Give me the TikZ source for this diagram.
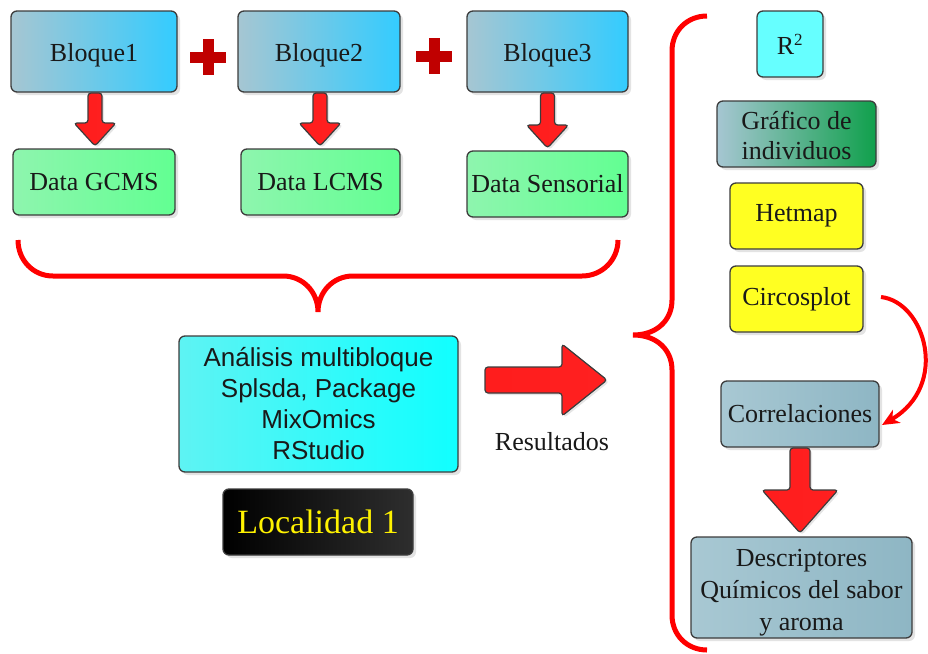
\documentclass[tikz,border=0pt]{standalone}
\usepackage{fontspec}
\setmainfont{Liberation Serif}
\newfontfamily\arialf{Liberation Sans}
\usetikzlibrary{calc,shadows,arrows.meta}
\definecolor{boxline}{HTML}{3C3C3C}
\definecolor{bluegray}{HTML}{A6C6D2}
\definecolor{skyb}{HTML}{33CCFF}
\definecolor{lgreenA}{HTML}{8EF5AE}
\definecolor{lgreenB}{HTML}{62FF92}
\definecolor{cyanA}{HTML}{5EF3F3}
\definecolor{cyanB}{HTML}{10FFFF}
\definecolor{rsq}{HTML}{66FFFF}
\definecolor{dgreen}{HTML}{10A04C}
\definecolor{yel}{HTML}{FFFF22}
\definecolor{corrA}{HTML}{A8C8D3}
\definecolor{corrB}{HTML}{8EB6C4}
\definecolor{plusred}{HTML}{C00000}
\definecolor{arrred}{HTML}{FF2020}
\definecolor{bracered}{HTML}{FF0000}
\newcommand{\blockdown}[5]{%
  \path[blockarrow] let \p1=(#1), \p2=(#2) in
    (\x1-#3,\y1) -- (\x1+#3,\y1) -- (\x1+#3,\y2+#5) -- (\x1+#4,\y2+#5)
    -- (\x1,\y2) -- (\x1-#4,\y2+#5) -- (\x1-#3,\y2+#5) -- cycle;}
\newcommand{\blockright}[5]{%
  \path[blockarrow] let \p1=(#1), \p2=(#2) in
    (\x1,\y1+#3) -- (\x2-#5,\y1+#3) -- (\x2-#5,\y1+#4) -- (\x2,\y1)
    -- (\x2-#5,\y1-#4) -- (\x2-#5,\y1-#3) -- (\x1,\y1-#3) -- cycle;}
\begin{document}
\begin{tikzpicture}[x=1pt,y=-1pt,
  box/.style={draw=boxline, line width=1.3pt, rounded corners=6pt, inner sep=0pt,
    outer sep=0pt, align=center, font=\fontsize{26}{31}\selectfont, text=black!90,
    drop shadow={opacity=0.22, shadow xshift=3pt, shadow yshift=-3pt}},
  bloque/.style={box, left color=bluegray, right color=skyb},
  databox/.style={box, left color=lgreenA, right color=lgreenB},
  blockarrow/.style={draw=boxline, line width=1.2pt, rounded corners=3pt,
    left color=arrred!90!red, right color=arrred,
    drop shadow={opacity=0.2, shadow xshift=2pt, shadow yshift=-2pt}},
  brace/.style={draw=bracered, line width=5pt},
  plusbar/.style={draw=plusred, line width=11pt}
]
\useasboundingbox (0,0) rectangle (928,653);
\fill[white] (0,0) rectangle (928,653);

% top row
\node[bloque, minimum width=166, minimum height=81] (b1) at (94,51.5) {\rule{0pt}{26pt}Bloque1};
\node[bloque, minimum width=162, minimum height=81] (b2) at (319,51.5) {\rule{0pt}{26pt}Bloque2};
\node[bloque, minimum width=161, minimum height=81] (b3) at (547.5,51.5) {\rule{0pt}{26pt}Bloque3};

% plus signs
\draw[plusbar] (190,57) -- (226,57) (208,39) -- (208,75);
\draw[plusbar] (416,56) -- (452,56) (434,38) -- (434,74);

% data boxes
\node[databox, minimum width=162, minimum height=66] (d1) at (94,182) {Data GCMS};
\node[databox, minimum width=159, minimum height=66] (d2) at (320.5,182) {Data LCMS};
\node[databox, minimum width=161, minimum height=66] (d3) at (547.5,184) {Data Sensorial};

% down arrows
\blockdown{$(b1.south)+(1,1)$}{$(d1.north)+(1,-3)$}{7pt}{21pt}{23pt}
\blockdown{$(b2.south)+(1,1)$}{$(d2.north)+(-0.5,-3)$}{7pt}{21pt}{23pt}
\blockdown{$(b3.south)+(0,1)$}{$(d3.north)+(0,-3)$}{7pt}{21pt}{23pt}

% bottom brace
\draw[brace] (18,240) .. controls (18,260) and (33,276) .. (53,276) -- (283,276)
  .. controls (303,276) and (318,292) .. (318,312)
  .. controls (318,292) and (333,276) .. (353,276) -- (582,276)
  .. controls (602,276) and (618,260) .. (618,240);

% central block
\node[box, left color=cyanA, right color=cyanB, minimum width=279, minimum height=136,
  font=\arialf\fontsize{26}{31}\selectfont] (ana) at (318.5,404)
  {Análisis multibloque\\Splsda, Package\\MixOmics\\RStudio};
\node[box, left color=black, right color=black!82, minimum width=190, minimum height=66,
  text=yellow, font=\fontsize{34}{40}\selectfont] (loc) at (318,522) {Localidad 1};

% results arrow
\coordinate (ra1) at (485,380);
\coordinate (ra2) at (607,380);
\blockright{ra1}{ra2}{13pt}{36pt}{45pt}
\node[font=\fontsize{26}{30}\selectfont, text=black!90] (res) at (552,442) {Resultados};

% right brace
\draw[brace] (707,16) .. controls (687,16) and (672,31) .. (672,51) -- (672,300)
  .. controls (672,320) and (657,335) .. (633,335)
  .. controls (657,335) and (672,350) .. (672,370) -- (672,615)
  .. controls (672,635) and (687,650) .. (707,650);

% right column
\node[box, fill=rsq, minimum width=66, minimum height=66] (r2) at (790,44) {R\textsuperscript{\fontsize{17}{20}\selectfont 2}};
\node[box, left color=bluegray, right color=dgreen, minimum width=159, minimum height=66,
  font=\fontsize{26}{30}\selectfont] (gra) at (796.5,134) {\rule{0pt}{22pt}Gráfico de\\individuos};
\node[box, fill=yel, minimum width=133, minimum height=66] (het) at (796.5,216) {Hetmap};
\node[box, fill=yel, minimum width=133, minimum height=66] (cir) at (796.5,299) {Circosplot};
\node[box, left color=corrA, right color=corrB, minimum width=158, minimum height=66] (cor) at (800,414) {Correlaciones};
\node[box, left color=corrA, right color=corrB, minimum width=221, minimum height=101,
  font=\fontsize{26}{32}\selectfont] (des) at (801.5,587.5) {\rule{0pt}{28pt}Descriptores\\Químicos del sabor\\y aroma};

% curved arrow
\draw[draw=bracered, line width=4pt, -{Stealth[length=17pt, width=15pt, inset=5pt]}]
  ($(cir.east)+(18,-2)$) .. controls (925,302) and (950,385) .. ($(cor.east)+(3,11)$);

% big down arrow
\blockdown{$(cor.south)+(0,1)$}{$(des.north)+(0,-4)$}{10pt}{38pt}{43pt}
\end{tikzpicture}
\end{document}
